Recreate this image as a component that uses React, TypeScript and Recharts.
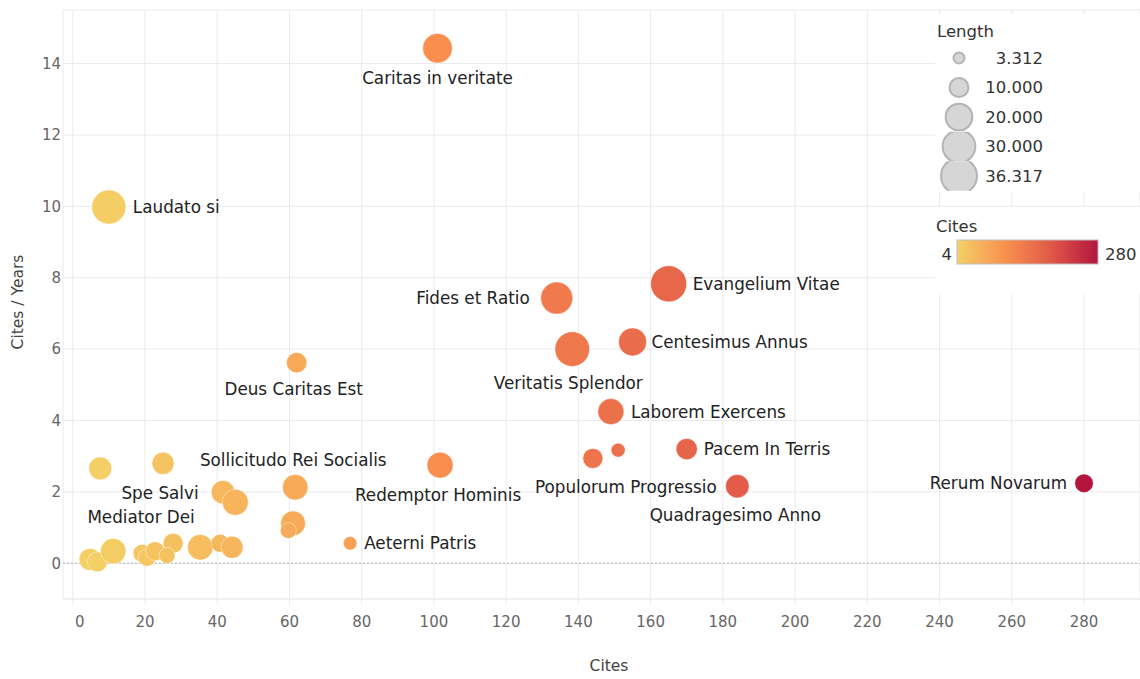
import React from 'react';
import { ScatterChart, Scatter, XAxis, YAxis, CartesianGrid, ReferenceLine, Label } from 'recharts';

// encyclicals: label ('' = no label), cites, cites per year, length
const labels = [
  'Caritas in veritate', 'Laudato si', 'Fides et Ratio', 'Evangelium Vitae', 'Veritatis Splendor',
  'Centesimus Annus', 'Deus Caritas Est', 'Laborem Exercens', 'Pacem In Terris', '',
  'Populorum Progressio', 'Quadragesimo Anno', 'Rerum Novarum', 'Redemptor Hominis', 'Sollicitudo Rei Socialis',
  '', '', 'Aeterni Patris', 'Spe Salvi', '',
  '', '', '', '', '',
  'Mediator Dei', '', '', '', '',
  '', '', '',
];
const cites = [
  101, 10, 134, 165, 138.3,
  155, 62, 149, 170, 151,
  144, 184, 280, 101.7, 61.6,
  61, 59.7, 76.8, 25, 7.6,
  41.6, 45, 4.8, 6.8, 11.2,
  19.2, 20.6, 22.8, 27.8, 26.1,
  35.3, 40.8, 44.1,
];
const citesPerYear = [
  14.43, 9.98, 7.43, 7.83, 6.0,
  6.2, 5.62, 4.25, 3.2, 3.17,
  2.94, 2.16, 2.24, 2.75, 2.13,
  1.12, 0.92, 0.56, 2.8, 2.66,
  1.99, 1.71, 0.11, 0.04, 0.34,
  0.28, 0.17, 0.34, 0.56, 0.22,
  0.45, 0.56, 0.45,
];
const lengths = [
  24.5, 32.4, 28.7, 36.317, 33.5,
  21.9, 11.5, 18.9, 12.5, 5.4,
  11.1, 15.3, 9.5, 18.9, 18,
  17, 7.1, 5, 13.5, 14.5,
  15.3, 18.9, 13.5, 11.1, 18,
  9, 9, 10.1, 11.1, 7.1,
  18, 9, 13.5,
];

const xTicks = [0, 20, 40, 60, 80, 100, 120, 140, 160, 180, 200, 220, 240, 260, 280];
const yTicks = [0, 2, 4, 6, 8, 10, 12, 14];
const lengthLegend = [3.312, 10, 20, 30, 36.317];
const citesRange = [4, 280];

const colorStops: [number, string][] = [
  [0, '#f4d166'],
  [0.35, '#f98f4e'],
  [0.65, '#e25c49'],
  [1, '#b3153f'],
];

// where each name sits relative to its bubble: dx, dy, anchor
const placement: Record<string, [number, number, string]> = {
  'Caritas in veritate': [0, 30, 'middle'],
  'Laudato si': [24, 0, 'start'],
  'Fides et Ratio': [-27, 0, 'end'],
  'Evangelium Vitae': [24, 0, 'start'],
  'Veritatis Splendor': [-4, 34, 'middle'],
  'Centesimus Annus': [19, 0, 'start'],
  'Deus Caritas Est': [-3, 26, 'middle'],
  'Laborem Exercens': [20, 0, 'start'],
  'Pacem In Terris': [17, 0, 'start'],
  'Populorum Progressio': [33, 29, 'middle'],
  'Quadragesimo Anno': [-2, 29, 'middle'],
  'Rerum Novarum': [-17, 0, 'end'],
  'Redemptor Hominis': [-2, 30, 'middle'],
  'Sollicitudo Rei Socialis': [-2, -27, 'middle'],
  'Aeterni Patris': [14, 0, 'start'],
  'Spe Salvi': [-3, 30, 'middle'],
  'Mediator Dei': [-1, -36, 'middle'],
};

const FONT = 'DejaVu Sans';
const LEN_MIN = 3.312;
const LEN_MAX = 36.317;
const AREA_MIN = Math.PI * 5.5 * 5.5;
const AREA_MAX = Math.PI * 18 * 18;

const radius = (len: number) =>
  Math.sqrt((AREA_MIN + ((len - LEN_MIN) / (LEN_MAX - LEN_MIN)) * (AREA_MAX - AREA_MIN)) / Math.PI);

const hex = (c: string) => [1, 3, 5].map(i => parseInt(c.slice(i, i + 2), 16));

const citeColor = (v: number) => {
  const t = Math.min(1, Math.max(0, (v - citesRange[0]) / (citesRange[1] - citesRange[0])));
  for (let i = 1; i < colorStops.length; i++) {
    const [t1, c1] = colorStops[i];
    const [t0, c0] = colorStops[i - 1];
    if (t <= t1) {
      const f = (t - t0) / (t1 - t0);
      const a = hex(c0);
      const b = hex(c1);
      const rgb = a.map((x, k) => Math.round(x + (b[k] - x) * f));
      return `rgb(${rgb.join(',')})`;
    }
  }
  return colorStops[colorStops.length - 1][1];
};

const data = labels.map((name, i) => ({
  name,
  cites: cites[i],
  cpy: citesPerYear[i],
  len: lengths[i],
}));

const Bubble = (props: any) => {
  const { cx, cy, payload } = props;
  if (cx == null || cy == null) return <g />;
  return (
    <circle
      cx={cx}
      cy={cy}
      r={radius(payload.len)}
      fill={citeColor(payload.cites)}
      stroke="#ffffff"
      strokeOpacity={0.5}
      strokeWidth={0.8}
    />
  );
};

const NameTag = (props: any) => {
  const { cx, cy, payload } = props;
  const p = placement[payload.name];
  if (!p || cx == null) return <g />;
  return (
    <text
      x={cx + p[0]}
      y={cy + p[1]}
      textAnchor={p[2] as any}
      dominantBaseline="central"
      fontSize={16.8}
      fontFamily={FONT}
      fill="#222"
    >
      {payload.name}
    </text>
  );
};

const XTick = (props: any) => {
  const { x, y, payload } = props;
  return (
    <text
      x={x + (payload.value === 0 ? 7 : 0)}
      y={y}
      dy="0.71em"
      textAnchor="middle"
      fontSize={15}
      fontFamily={FONT}
      fill="#666"
    >
      {payload.value}
    </text>
  );
};

const XTitle = () => (
  <text x={609} y={671} textAnchor="middle" fontSize={15.5} fontFamily={FONT} fill="#444">
    Cites
  </text>
);

const YTitle = () => (
  <text
    x={18}
    y={302}
    transform="rotate(-90, 18, 302)"
    textAnchor="middle"
    dominantBaseline="central"
    fontSize={15.5}
    fontFamily={FONT}
    fill="#444"
  >
    Cites / Years
  </text>
);

const LegendPanel = () => {
  const rowH = 29.5;
  return (
    <svg width={205} height={300} style={{ position: 'absolute', left: 935, top: 0 }}>
      <defs>
        <linearGradient id="citesGrad" x1="0" x2="1" y1="0" y2="0">
          {colorStops.map(([o, c]) => (
            <stop key={o} offset={o} stopColor={c} />
          ))}
        </linearGradient>
        {lengthLegend.map((_, i) => (
          <clipPath id={`row${i}`} key={i}>
            <rect x={0} y={58 + i * rowH - rowH / 2} width={205} height={rowH} />
          </clipPath>
        ))}
      </defs>
      <rect x={0} y={14} width={205} height={178} fill="#fff" />
      <rect x={0} y={207} width={205} height={86} fill="#fff" />
      <text x={2} y={37} fontSize={16.5} fontFamily={FONT} fill="#333">Length</text>
      {lengthLegend.map((v, i) => {
        const cy = 58 + i * rowH;
        return (
          <g key={v}>
            <circle
              cx={24}
              cy={cy}
              r={radius(v)}
              fill="#d6d6d6"
              stroke="#b4b4b4"
              strokeWidth={2}
              clipPath={`url(#row${i})`}
            />
            <text x={108} y={cy} textAnchor="end" dominantBaseline="central" fontSize={16.5} fontFamily={FONT} fill="#333">
              {v.toFixed(3)}
            </text>
          </g>
        );
      })}
      <text x={1} y={232} fontSize={16.5} fontFamily={FONT} fill="#333">Cites</text>
      <text x={17} y={254} textAnchor="end" dominantBaseline="central" fontSize={16.5} fontFamily={FONT} fill="#333">
        {citesRange[0]}
      </text>
      <rect x={22} y={240} width={141} height={24} fill="url(#citesGrad)" stroke="#bdbdbd" strokeWidth={1} />
      <text x={170} y={254} dominantBaseline="central" fontSize={16.5} fontFamily={FONT} fill="#333">
        {citesRange[1]}
      </text>
    </svg>
  );
};

export default function App() {
  return (
    <div style={{ position: 'absolute', left: 0, top: 0, width: 1140, height: 679, background: '#fff' }}>
      <ScatterChart width={1140} height={679} margin={{ top: 10, right: 0, bottom: 0, left: 0 }}>
        <CartesianGrid stroke="#ebebeb" strokeWidth={1} />
        <XAxis
          type="number"
          dataKey="cites"
          domain={[-2.7, 295.5]}
          ticks={xTicks}
          allowDataOverflow
          height={80}
          tickSize={6}
          tickMargin={11}
          tickLine={{ stroke: '#ebebeb' }}
          axisLine={{ stroke: '#ebebeb' }}
          tick={<XTick />}
          interval={0}
        >
          <Label content={<XTitle />} />
        </XAxis>
        <YAxis
          type="number"
          dataKey="cpy"
          domain={[-1, 15.5]}
          ticks={yTicks}
          allowDataOverflow
          width={63}
          tickSize={0}
          tickMargin={2}
          tickLine={false}
          axisLine={false}
          tick={{ fill: '#666', fontSize: 15, fontFamily: FONT }}
          interval={0}
        >
          <Label content={<YTitle />} />
        </YAxis>
        <ReferenceLine y={0} stroke="#b5b5b5" strokeDasharray="2 2" />
        <Scatter data={data} shape={<Bubble />} isAnimationActive={false} />
        <Scatter data={data} shape={<NameTag />} isAnimationActive={false} />
      </ScatterChart>
      <LegendPanel />
    </div>
  );
}
